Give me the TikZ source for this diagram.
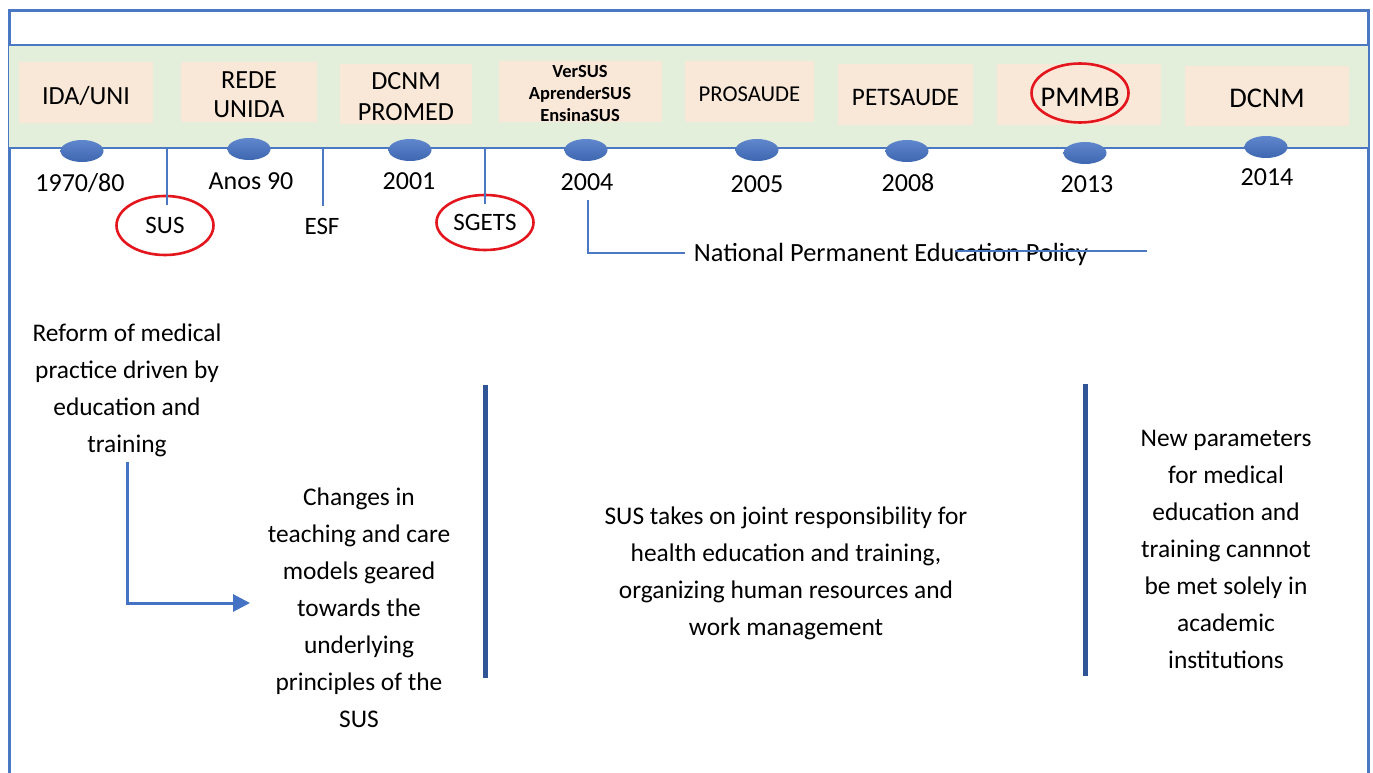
\documentclass[tikz,border=0pt]{standalone}
\usepackage{fontspec}
\setmainfont{Carlito}
\usetikzlibrary{shapes.geometric,arrows.meta}
\definecolor{frameblue}{HTML}{4A78C2}
\definecolor{dotblue}{HTML}{4472C4}
\definecolor{bardark}{HTML}{2F5597}
\definecolor{bandgreen}{HTML}{E3EFDB}
\definecolor{peach}{HTML}{F9E8D8}
\definecolor{ringred}{HTML}{E3161E}
\tikzset{
  evbox/.style={rectangle, fill=peach, inner sep=0pt, align=center, text=black},
  evtext/.style={inner sep=0pt, align=center},
  yeardot/.style={ellipse, minimum width=43pt, minimum height=22pt, inner sep=0pt,
    top color=dotblue!85!white, bottom color=dotblue!90!black, draw=none},
  yearlbl/.style={font=\fontsize{26}{29}\selectfont, inner sep=0pt},
  ring/.style={ellipse, draw=ringred, line width=2.6pt, minimum width=97pt, minimum height=59pt, inner sep=0pt},
  thinline/.style={draw=frameblue, line width=1.2pt},
  bodytext/.style={font=\fontsize{25.4}{37}\selectfont, align=center, inner sep=0pt},
  divider/.style={draw=bardark, line width=5pt}
}
\begin{document}
\begin{tikzpicture}[x=1pt,y=-1pt]
\useasboundingbox (0,0) rectangle (1373,773);
\fill[white] (0,0) rectangle (1373,773);

% outer frame
\draw[frameblue, line width=3pt] (9,780) -- (9,11) -- (1368,11) -- (1368,780);

% timeline band
\fill[bandgreen] (9,45) rectangle (1368,148);
\draw[thinline] (9,45) -- (1368,45);
\draw[thinline] (9,148) -- (1368,148);

% event boxes
\node[evbox, minimum width=134pt, minimum height=61pt] (b1) at (86,92.5) {};
\node[evbox, minimum width=136pt, minimum height=60pt] (b2) at (249,92) {};
\node[evbox, minimum width=132pt, minimum height=60pt] (b3) at (406,94) {};
\node[evbox, minimum width=163pt, minimum height=61pt] (b4) at (580,91.5) {};
\node[evbox, minimum width=129pt, minimum height=61pt] (b5) at (749.5,91.5) {};
\node[evbox, minimum width=135pt, minimum height=61pt] (b6) at (905.5,94.5) {};
\node[evbox, minimum width=164pt, minimum height=61pt] (b7) at (1079,94.5) {};
\node[evbox, minimum width=164pt, minimum height=60pt] (b8) at (1267,96) {};

% event names
\node[evtext, font=\fontsize{26.2}{29}\selectfont] (e1) at (86,96) {IDA/UNI};
\node[evtext, font=\fontsize{26.2}{29}\selectfont] (e2) at (249,94.5) {REDE\\UNIDA};
\node[evtext, font=\fontsize{26.2}{31}\selectfont] (e3) at (406,96.5) {DCNM\\PROMED};
\node[evtext, font=\bfseries\fontsize{18.5}{22}\selectfont] (e4) at (580,94) {VerSUS\\AprenderSUS\\EnsinaSUS};
\node[evtext, font=\fontsize{22.7}{26}\selectfont] (e5) at (749.5,94) {PROSAUDE};
\node[evtext, font=\fontsize{25.2}{28}\selectfont] (e6) at (905.5,97.5) {PETSAUDE};
\node[evtext, font=\fontsize{28.5}{31}\selectfont] (e7) at (1080,97.5) {PMMB};
\node[evtext, font=\fontsize{28.5}{31}\selectfont] (e8) at (1267,98.5) {DCNM};
\node[ring] (pmmb) at (1080,93) {};

% dots on the timeline
\node[yeardot] (d1) at (82,151) {};
\node[yeardot] (d2) at (249,149) {};
\node[yeardot] (d3) at (410,150) {};
\node[yeardot] (d4) at (586,150) {};
\node[yeardot] (d5) at (757,150) {};
\node[yeardot] (d6) at (907,151) {};
\node[yeardot] (d7) at (1085,153) {};
\node[yeardot] (d8) at (1266,147) {};

% year labels
\node[yearlbl] (y1) at (80,183) {1970/80};
\node[yearlbl] (y2) at (251,181) {Anos 90};
\node[yearlbl] (y3) at (409,181) {2001};
\node[yearlbl] (y4) at (587,182) {2004};
\node[yearlbl] (y5) at (757,184) {2005};
\node[yearlbl] (y6) at (908,183) {2008};
\node[yearlbl] (y7) at (1087,184) {2013};
\node[yearlbl] (y8) at (1267,177) {2014};

% milestones between the dots
\coordinate (t1) at (167,148);
\coordinate (t2) at (323,148);
\coordinate (t3) at (485,148);
\node[ring, font=\fontsize{25}{28}\selectfont] (sus) at (165,225.5) {SUS};
\node[yearlbl, font=\fontsize{25}{28}\selectfont] (esf) at (322,226) {ESF};
\node[ring, minimum height=55pt, font=\fontsize{25}{28}\selectfont] (sgets) at (485,222.5) {SGETS};
\draw[thinline] (t1) -- (t1 |- 0,205);
\draw[thinline] (t2) -- (t2 |- 0,206);
\draw[thinline] (t3) -- (t3 |- 0,204);

% policy bracket
\coordinate (p0) at (588,200);
\coordinate (p1) at (685,253);
\node[bodytext, font=\fontsize{26.3}{30}\selectfont] (pol) at (891,254) {National Permanent Education Policy};
\draw[thinline] (p0) |- (p1);
\coordinate (p2) at (955,251);
\coordinate (p3) at (1147,251);
\draw[thinline] (p2) -- (p3);

% lower captions
\node[bodytext] (reform) at (127,390) {Reform of medical\\practice driven by\\education and\\training};
\node[bodytext] (changes) at (359,608) {Changes in\\teaching and care\\models geared\\towards the\\underlying\\principles of the\\SUS};
\node[bodytext] (joint) at (786,573) {SUS takes on joint responsibility for\\health education and training,\\organizing human resources and\\work management};
\node[bodytext] (params) at (1226,549) {New parameters\\for medical\\education and\\training cannnot\\be met solely in\\academic\\institutions};

\coordinate (a0) at (127,462);
\coordinate (a1) at (250,603);
\draw[dotblue, line width=3pt, -{Triangle[length=17pt,width=17pt]}] (a0) |- (a1);

% dividers
\draw[divider] (485,385) -- (485,678);
\draw[divider] (1085,384) -- (1085,676);
\end{tikzpicture}
\end{document}
